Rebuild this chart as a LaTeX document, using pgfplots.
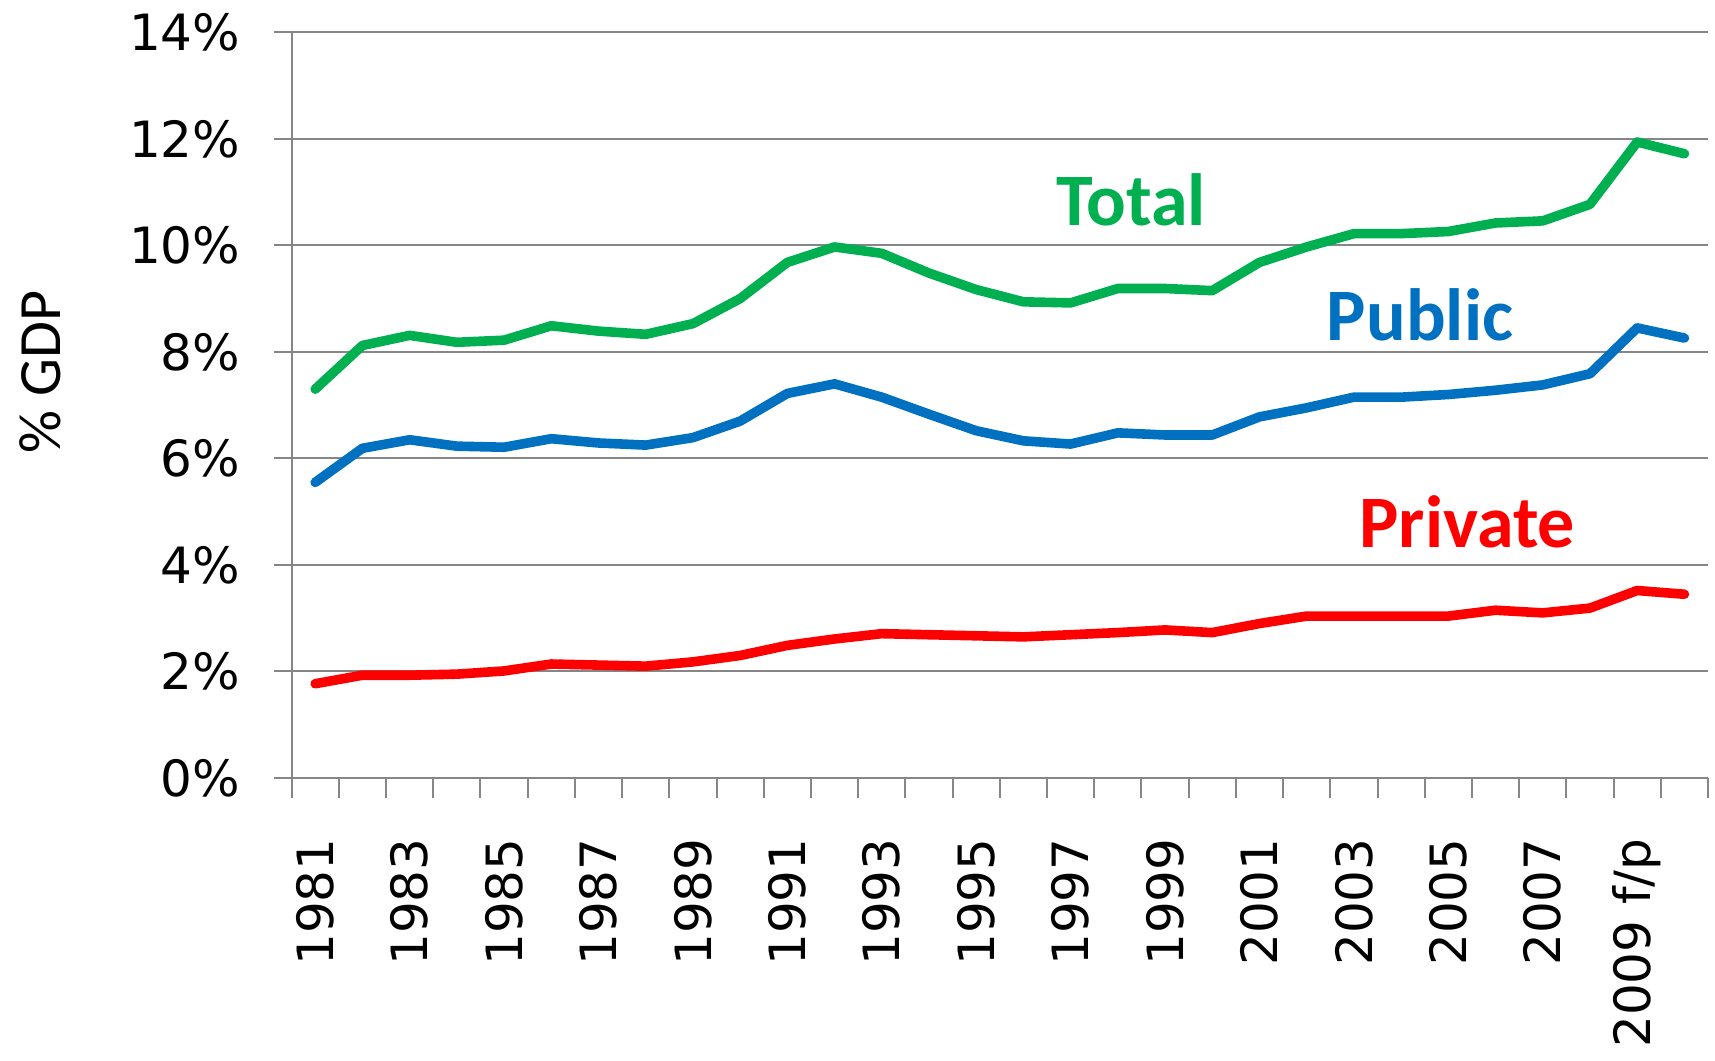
\documentclass[border=0pt]{standalone}
\usepackage{pgfplots}
\pgfplotsset{compat=1.18}
\usepackage{fontspec}
\setmainfont{DejaVu Sans}
\newfontfamily\calibri{Carlito}
\usetikzlibrary{calc}
\definecolor{cTotal}{HTML}{00B050}
\definecolor{cPublic}{HTML}{0070C0}
\definecolor{cPrivate}{HTML}{FF0000}
\definecolor{gridgray}{HTML}{868686}
\pgfplotstableread{
x total public private
0  7.30 5.55 1.77
1  8.12 6.19 1.93
2  8.31 6.35 1.93
3  8.18 6.23 1.95
4  8.22 6.21 2.01
5  8.49 6.37 2.14
6  8.39 6.29 2.12
7  8.33 6.25 2.10
8  8.53 6.39 2.18
9  9.00 6.70 2.30
10 9.68 7.22 2.49
11 9.97 7.40 2.61
12 9.85 7.15 2.71
13 9.48 6.83 2.69
14 9.17 6.52 2.67
15 8.94 6.33 2.65
16 8.92 6.27 2.69
17 9.19 6.48 2.73
18 9.19 6.44 2.78
19 9.15 6.44 2.73
20 9.68 6.78 2.90
21 9.97 6.95 3.04
22 10.22 7.15 3.04
23 10.22 7.15 3.04
24 10.26 7.20 3.04
25 10.42 7.28 3.15
26 10.46 7.38 3.10
27 10.77 7.59 3.19
28 11.94 8.45 3.52
29 11.72 8.26 3.45
}\datatable
\begin{document}
\begin{tikzpicture}
\begin{axis}[
  name=ax,
  scale only axis,
  width=708.2pt, height=372.85pt,
  xmin=-0.5, xmax=29.5,
  ymin=0, ymax=14,
  axis x line*=bottom,
  axis y line*=left,
  axis line style={gridgray, line width=1pt},
  xtick={0,2,...,28},
  xticklabels={1981,1983,1985,1987,1989,1991,1993,1995,1997,1999,2001,2003,2005,2007,2009 f/p},
  minor xtick={-0.5,0.5,...,29.5},
  major x tick style={draw=none},
  minor tick length=10pt,
  ytick={0,2,...,14},
  yticklabel={\pgfmathprintnumber{\tick}\%},
  major tick length=9pt,
  tick align=outside,
  tick style={gridgray, line width=1pt},
  ymajorgrids,
  major grid style={gridgray, line width=1pt},
  /pgf/number format/assume math mode=true,
  tick label style={font=\fontsize{25}{29}\selectfont, inner sep=0pt},
  xticklabel style={rotate=90, anchor=east},
  yticklabel style={anchor=east},
  xticklabel shift=21pt,
  yticklabel shift=16.5pt,
  clip=false,
]
\addplot[cTotal, line width=4.8pt, line join=round, line cap=round] table[x=x,y=total]{\datatable};
\addplot[cPublic, line width=4.8pt, line join=round, line cap=round] table[x=x,y=public]{\datatable};
\addplot[cPrivate, line width=4.8pt, line join=round, line cap=round] table[x=x,y=private]{\datatable};
\node[cTotal, font=\calibri\bfseries\fontsize{37}{40}\selectfont] at (axis cs:17.28,10.85) {Total};
\node[cPublic, font=\calibri\bfseries\fontsize{37}{40}\selectfont] at (axis cs:23.40,8.69) {Public};
\node[cPrivate, font=\calibri\bfseries\fontsize{37}{40}\selectfont] at (axis cs:24.40,4.81) {Private};
\end{axis}
\node[rotate=90, font=\calibri\fontsize{30}{34}\selectfont] at ($(ax.north west)+(-125.8pt,-169.85pt)$) {\% GDP};
\pgfresetboundingbox
\path[use as bounding box] ($(ax.south west)+(-145.8pt,-141pt)$) rectangle ($(ax.north east)+(3.5pt,16.15pt)$);
\end{tikzpicture}
\end{document}
